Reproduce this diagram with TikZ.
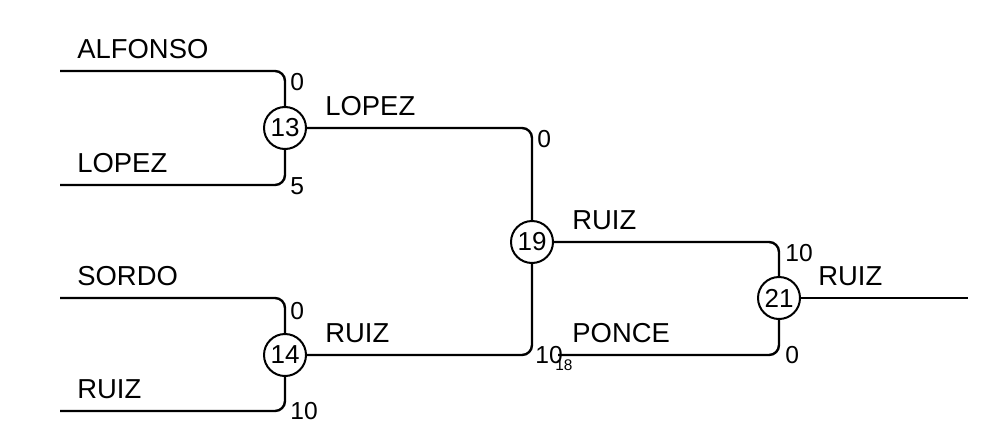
\documentclass[tikz,border=0pt]{standalone}
\usepackage{fontspec}
\setmainfont{Liberation Sans}
\usetikzlibrary{calc}
\definecolor{linecol}{RGB}{0, 0, 0}
\tikzset{
  game/.style     = {circle, draw=linecol, line width=1pt, inner sep=0pt,
                     minimum size=21pt, font=\fontsize{13}{15}\selectfont},
  player/.style   = {anchor=base west, inner sep=0pt,
                     font=\fontsize{13.7}{16}\selectfont},
  upscore/.style  = {anchor=north west, inner sep=0pt,
                     font=\fontsize{12.3}{14}\selectfont},
  lowscore/.style = {anchor=west, inner sep=0pt,
                     font=\fontsize{12.3}{14}\selectfont},
  seed/.style     = {anchor=west, inner sep=0pt,
                     font=\fontsize{7.7}{9}\selectfont},
  bracket/.style  = {draw=linecol, line width=1.2pt, rounded corners=5pt},
}

\begin{document}
\begin{tikzpicture}[x=0.5pt, y=-0.5pt]
  \useasboundingbox (0,0) rectangle (983,428);

  %% ---------------- entrants ----------------
  \coordinate (alfonso) at (60,71);
  \coordinate (lopez)   at (60,185);
  \coordinate (sordo)   at (60,298);
  \coordinate (ruiz)    at (60,411);
  \coordinate (ponce)   at (558,355);
  \coordinate (champ)   at (968,298);

  %% ---------------- games ----------------
  \node[game] (g13) at (285,128) {13};
  \node[game] (g14) at (285,355) {14};
  \node[game] (g19) at (532,242) {19};
  \node[game] (g21) at (779,298) {21};

  %% ---------------- bracket lines ----------------
  \draw[bracket] (alfonso) -| (g13);
  \draw[bracket] (lopez) -| (g13);
  \draw[bracket] (sordo) -| (g14);
  \draw[bracket] (ruiz) -| (g14);
  \draw[bracket] (g13) -| (g19);
  \draw[bracket] (g14) -| (g19);
  \draw[bracket] (g19) -| (g21);
  \draw[bracket] (ponce) -| (g21);
  \draw[bracket] (g21) -- (champ);

  %% ---------------- names on the lines ----------------
  \node[player] (nalfonso) at ($(alfonso)+(17,-13)$) {ALFONSO};
  \node[player] (nlopez)   at ($(lopez)+(17,-13)$)   {LOPEZ};
  \node[player] (nsordo)   at ($(sordo)+(17,-13)$)   {SORDO};
  \node[player] (nruiz)    at ($(ruiz)+(17,-13)$)    {RUIZ};
  \node[player] (w13)      at ($(g13)+(40,-13)$)     {LOPEZ};
  \node[player] (w14)      at ($(g14)+(40,-13)$)     {RUIZ};
  \node[player] (w19)      at ($(g19)+(40,-13)$)     {RUIZ};
  \node[player] (nponce)   at ($(ponce)+(14,-13)$)   {PONCE};
  \node[player] (w21)      at ($(g21)+(39,-13)$)     {RUIZ};

  %% ---------------- scores ----------------
  \node[upscore]  (s13a) at ($(g13 |- alfonso)+(5,2)$) {0};
  \node[lowscore] (s13b) at ($(g13 |- lopez)+(5,1)$)   {5};
  \node[upscore]  (s14a) at ($(g14 |- sordo)+(5,4)$)   {0};
  \node[lowscore] (s14b) at ($(g14 |- ruiz)+(5,0)$)    {10};
  \node[upscore]  (s19a) at ($(g19 |- g13)+(5,2)$)     {0};
  \node[lowscore] (s19b) at ($(g19 |- g14)+(3,0)$)     {10};
  \node[seed]     (s19c) at ($(g19 |- g14)+(23,10)$)   {18};
  \node[upscore]  (s21a) at ($(g21 |- g19)+(6,2)$)     {10};
  \node[lowscore] (s21b) at ($(g21 |- ponce)+(6,0)$)   {0};

\end{tikzpicture}
\end{document}
